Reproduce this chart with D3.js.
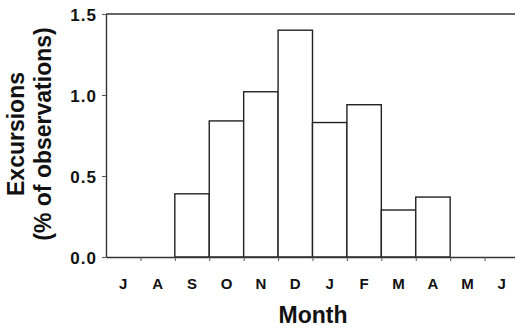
<!DOCTYPE html>
<html>
<head>
<meta charset="utf-8">
<script src="https://cdn.jsdelivr.net/npm/d3@7"></script>
<style>
  body { margin: 0; background: #fff; }
  svg text { font-family: Arial, "Liberation Sans", Helvetica, sans-serif; font-weight: bold; fill: #111; }
</style>
</head>
<body>
<svg id="chart"></svg>
<script>
const months = ["J", "A", "S", "O", "N", "D", "J", "F", "M", "A", "M", "J"];
const values = [0, 0, 0.39, 0.84, 1.02, 1.40, 0.83, 0.94, 0.29, 0.37, 0, 0];
const yTicks = [0, 0.5, 1.0, 1.5];

const W = 515, H = 330;
const margin = {top: 14, left: 106, bottom: 73};
const plotRight = 519;            // plot runs past the window edge
const height = H - margin.top - margin.bottom;

const svg = d3.select("#chart")
  .attr("width", W)
  .attr("height", H);

const x = d3.scaleBand()
  .domain(d3.range(months.length))
  .range([margin.left, plotRight])
  .padding(0);

const xEdge = d3.scaleLinear()
  .domain([0, months.length])
  .range([margin.left, plotRight]);

const y = d3.scaleLinear()
  .domain([0, 1.5])
  .range([margin.top + height, margin.top]);

// bars
svg.append("g")
  .selectAll("rect")
  .data(values.map((v, i) => ({i: i, v: v})).filter(d => d.v > 0))
  .enter()
  .append("rect")
  .attr("x", d => x(d.i))
  .attr("y", d => y(d.v))
  .attr("width", x.bandwidth())
  .attr("height", d => y(0) - y(d.v))
  .style("fill", "#fff")
  .style("stroke", "#222")
  .style("stroke-width", 1.4);

// top frame line
svg.append("line")
  .attr("x1", margin.left).attr("x2", W)
  .attr("y1", y(1.5)).attr("y2", y(1.5))
  .style("stroke", "#333")
  .style("stroke-width", 1.4);

// y axis
const yAxis = svg.append("g")
  .attr("transform", "translate(" + margin.left + ",0)")
  .call(d3.axisLeft(y).tickValues(yTicks).tickFormat(d3.format(".1f")).tickSize(4).tickSizeOuter(0));
yAxis.select(".domain").style("stroke", "#333").style("stroke-width", 1.4);
yAxis.selectAll(".tick line").style("stroke", "#555");
yAxis.selectAll("text")
  .attr("x", -9)
  .attr("dy", "0.36em")
  .style("font-size", "17px")
  .style("letter-spacing", "1px");

// x axis: boundary ticks
const xAxis = svg.append("g")
  .attr("transform", "translate(0," + y(0) + ")")
  .call(d3.axisBottom(xEdge).tickValues(d3.range(1, months.length)).tickFormat("").tickSize(4).tickSizeOuter(0));
xAxis.select(".domain").style("stroke", "#333").style("stroke-width", 1.4);
xAxis.selectAll(".tick line").style("stroke", "#555");

// x axis: month labels
const xLabels = svg.append("g")
  .attr("transform", "translate(0," + y(0) + ")")
  .call(d3.axisBottom(x).tickSize(0).tickFormat(i => months[i]));
xLabels.select(".domain").remove();
xLabels.selectAll("text")
  .attr("y", 21)
  .attr("dy", "0.71em")
  .style("font-size", "15px");

// axis titles
svg.append("text")
  .attr("x", 313)
  .attr("y", 323)
  .attr("text-anchor", "middle")
  .style("font-size", "23px")
  .text("Month");

svg.append("text")
  .attr("transform", "translate(24,134) rotate(-90)")
  .attr("text-anchor", "middle")
  .style("font-size", "23px")
  .text("Excursions");

svg.append("text")
  .attr("transform", "translate(51,134) rotate(-90)")
  .attr("text-anchor", "middle")
  .style("font-size", "23px")
  .text("(% of observations)");
</script>
</body>
</html>
